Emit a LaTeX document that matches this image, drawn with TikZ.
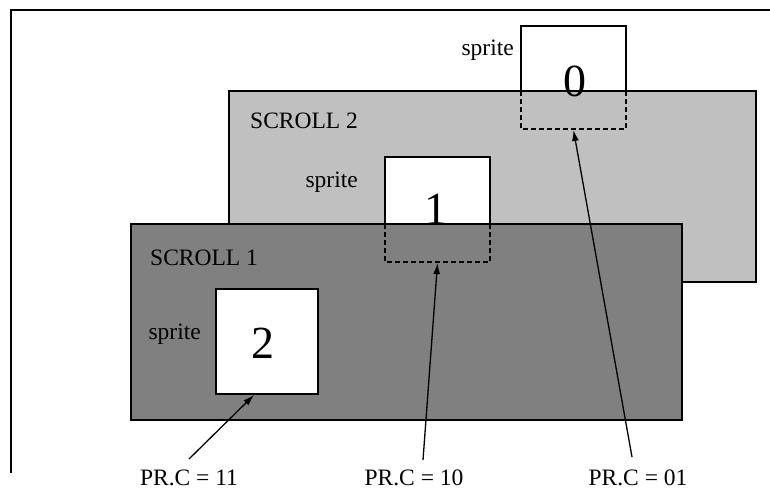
\documentclass[tikz,border=0pt]{standalone}
\usepackage{fontspec}
\setmainfont{Liberation Serif}
\usetikzlibrary{arrows.meta}
\definecolor{scrollback}{RGB}{192,192,192}
\definecolor{scrollfront}{RGB}{128,128,128}

\begin{document}
\begin{tikzpicture}[x=1pt,y=-1pt,
  area/.style={inner sep=0pt, outer sep=0pt, anchor=north west},
  edgeline/.style={draw=black, line width=1.2pt},
  brokenline/.style={draw=black, line width=1.2pt, dash pattern=on 5pt off 3pt},
  txt/.style={font=\fontsize{23.5}{26}\selectfont, inner sep=0pt},
  digit/.style={font=\fontsize{46}{50}\selectfont, inner sep=0pt, anchor=base},
  pointer/.style={draw=black, line width=1.3pt, -{Latex[length=11pt,width=7pt]}}
]
\useasboundingbox (0,0) rectangle (770,491);

% outer frame (top and left edges)
\draw[line width=2pt] (11,473) -- (11,10) -- (770,10);

% layer and sprite areas
\node[area, minimum width=527pt, minimum height=191pt] (scr2) at (229,91) {};
\node[area, minimum width=551pt, minimum height=196pt] (scr1) at (131,224) {};
\node[area, minimum width=105pt, minimum height=103pt] (spr0) at (521,26) {};
\node[area, minimum width=105pt, minimum height=105pt] (spr1) at (385,157) {};
\node[area, minimum width=102pt, minimum height=105pt] (spr2) at (216,289) {};

% sprite 0, behind scroll 2
\fill[white] (spr0.south west) rectangle (spr0.north east);
\draw[edgeline] (spr0.south west) -- (spr0.north west) -- (spr0.north east) -- (spr0.south east);
\node[txt, anchor=base east] (lab0) at (514,55) {sprite};

% scroll 2
\filldraw[edgeline, fill=scrollback] (scr2.north west) rectangle (scr2.south east);
\draw[brokenline] (spr0.west |- scr2.north) -- (spr0.south west) -- (spr0.south east) -- (spr0.east |- scr2.north);
\node[digit] (d0) at (575,96) {0};
\node[txt, anchor=base west] (name2) at (250,128) {SCROLL 2};

% sprite 1, behind scroll 1
\fill[white] (spr1.south west) rectangle (spr1.north east);
\draw[edgeline] (spr1.south west) -- (spr1.north west) -- (spr1.north east) -- (spr1.south east);
\node[txt, anchor=base east] (lab1) at (358,187) {sprite};

% scroll 1
\filldraw[edgeline, fill=scrollfront] (scr1.north west) rectangle (scr1.south east);
\draw[brokenline] (spr1.west |- scr1.north) -- (spr1.south west) -- (spr1.south east) -- (spr1.east |- scr1.north);
\node[digit] (d1) at (436,224) {1};
\node[txt, anchor=base west] (name1) at (150,265) {SCROLL 1};

% sprite 2, in front
\filldraw[edgeline, fill=white] (spr2.north west) rectangle (spr2.south east);
\node[digit] (d2) at (263,358) {2};
\node[txt, anchor=base east] (lab2) at (201,339) {sprite};

% priority labels and pointers
\node[txt, anchor=base] (pc11) at (189,485) {PR.C = 11};
\node[txt, anchor=base] (pc10) at (414,485) {PR.C = 10};
\node[txt, anchor=base] (pc01) at (638,485) {PR.C = 01};

\coordinate (t11) at (189,459);
\coordinate (t10) at (423,460);
\coordinate (t01) at (632,457);
\coordinate (h2) at ([xshift=-13pt,yshift=-1pt]spr2.south);

\draw[pointer] (t11) -- (h2);
\draw[pointer] (t10) -- ([yshift=-1pt]spr1.south);
\draw[pointer] (t01) -- ([yshift=-1pt]spr0.south);
\end{tikzpicture}
\end{document}
